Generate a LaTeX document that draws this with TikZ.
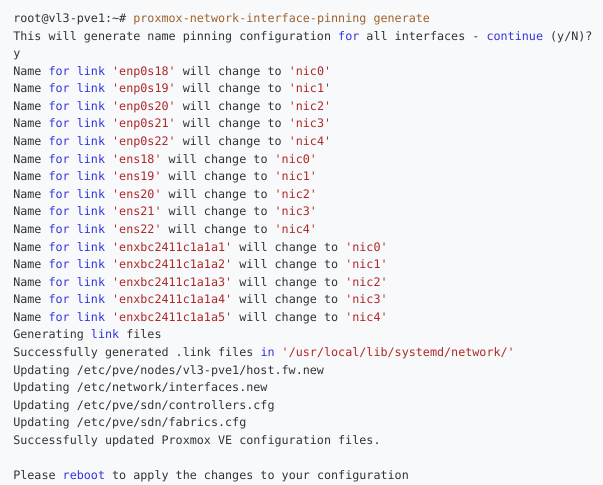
\documentclass[tikz,border=0pt]{standalone}
\usepackage{fontspec}
\setmonofont{DejaVu Sans Mono}
\definecolor{bg}{HTML}{F8F9FA}
\definecolor{txt}{HTML}{333333}
\definecolor{kw}{HTML}{3333E0}
\definecolor{str}{HTML}{B02828}
\definecolor{cmd}{HTML}{A0622D}
\newcommand{\K}[1]{\textcolor{kw}{#1}}
\newcommand{\Sq}[1]{\textcolor{str}{'#1'}}
\begin{document}
\begin{tikzpicture}[x=0.75pt,y=-0.75pt,
  ln/.style={anchor=base west,inner sep=0,font=\ttfamily\fontsize{8.8}{10}\selectfont,text=txt}]
\fill[bg] (0,0) rectangle (603,485);
\useasboundingbox (0,0) rectangle (603,485);
\def\lh{17.58}
\def\y{22.5}
\node[ln] (l1) at (13,\y) {root@vl3-pve1:\textasciitilde\# \textcolor{cmd}{proxmox-network-interface-pinning generate}};
\node[ln] (l2) at (13,\y+\lh) {This will generate name pinning configuration \K{for} all interfaces - \K{continue} (y/N)?};
\node[ln] (l3) at (13,\y+2*\lh) {y};
\foreach \n/\a [count=\i from 3] in {enp0s18/nic0,enp0s19/nic1,enp0s20/nic2,enp0s21/nic3,enp0s22/nic4,ens18/nic0,ens19/nic1,ens20/nic2,ens21/nic3,ens22/nic4,enxbc2411c1a1a1/nic0,enxbc2411c1a1a2/nic1,enxbc2411c1a1a3/nic2,enxbc2411c1a1a4/nic3,enxbc2411c1a1a5/nic4}
  \node[ln] (n\i) at (13,\y+\i*\lh) {Name \K{for} \K{link} \Sq{\n} will change to \Sq{\a}};
\node[ln] (l19) at (13,\y+18*\lh) {Generating \K{link} files};
\node[ln] (l20) at (13,\y+19*\lh) {Successfully generated .link files \K{in} \Sq{/usr/local/lib/systemd/network/}};
\node[ln] (l21) at (13,\y+20*\lh) {Updating /etc/pve/nodes/vl3-pve1/host.fw.new};
\node[ln] (l22) at (13,\y+21*\lh) {Updating /etc/network/interfaces.new};
\node[ln] (l23) at (13,\y+22*\lh) {Updating /etc/pve/sdn/controllers.cfg};
\node[ln] (l24) at (13,\y+23*\lh) {Updating /etc/pve/sdn/fabrics.cfg};
\node[ln] (l25) at (13,\y+24*\lh) {Successfully updated Proxmox VE configuration files.};
\node[ln] (l27) at (13,\y+26*\lh) {Please \K{reboot} to apply the changes to your configuration};
\end{tikzpicture}
\end{document}
